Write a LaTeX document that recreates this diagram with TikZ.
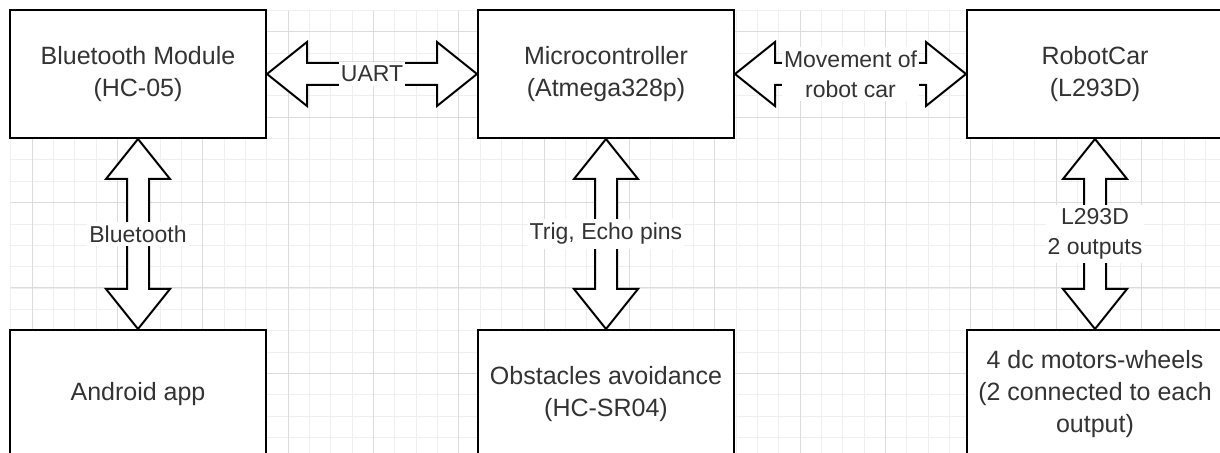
\documentclass[tikz,border=0pt]{standalone}
\usepackage{fontspec}
\setmainfont{Liberation Sans}
\usetikzlibrary{calc}
\definecolor{gridminor}{HTML}{EFEFEF}
\definecolor{gridmajor}{HTML}{DCDCDC}
\definecolor{txtgray}{HTML}{333333}
% double "flex" arrows between two node anchors
\newcommand{\hflex}[2]{\draw[flex] (#1) -- ++(40,32) -- ++(0,-21) -- ($(#2)+(-40,11)$) -- ++(0,21) -- (#2)
    -- ++(-40,-32) -- ++(0,21) -- ($(#1)+(40,-11)$) -- ++(0,-21) -- cycle;}
\newcommand{\vflex}[2]{\draw[flex] (#1) -- ++(32,-40) -- ++(-21,0) -- ($(#2)+(11,40)$) -- ++(21,0) -- (#2)
    -- ++(-32,40) -- ++(21,0) -- ($(#1)+(-11,-40)$) -- ++(-21,0) -- cycle;}

\begin{document}
\begin{tikzpicture}[x=0.5pt, y=0.5pt,
    block/.style={rectangle, draw=black, line width=1pt, fill=white,
                  minimum width=128pt, minimum height=64pt, align=center,
                  font=\fontsize{12.5}{16}\selectfont, text=txtgray},
    lbl/.style={fill=white, inner xsep=1pt, inner ysep=2pt, align=center,
                font=\fontsize{11.5}{15}\selectfont, text=txtgray},
    flex/.style={draw=black, line width=1pt, fill=white, line join=miter}
]
    \useasboundingbox (0,0) rectangle (1220,-453);
    \clip (0,0) rectangle (1220,-453);

    % background grid
    \begin{scope}[shift={(10.667,-10.667)}]
        \draw[gridminor, line width=0.5pt, step=10.667pt] (0,0) grid (1210,-443);
    \end{scope}
    \begin{scope}[shift={(32,-32)}]
        \draw[gridmajor, line width=0.5pt, step=42.667pt] (-21.333,21.333) grid (1188,-421);
    \end{scope}

    \node[block] (bt) at (138,-74) {Bluetooth Module\\(HC-05)};
    \node[block] (mcu) at (606,-74) {Microcontroller\\(Atmega328p)};
    \node[block] (car) at (1095,-74) {RobotCar\\(L293D)};
    \node[block] (app) at (138,-394) {Android app};
    \node[block] (sonar) at (606,-394) {Obstacles avoidance\\(HC-SR04)};
    \node[block] (motors) at (1095,-394) {4 dc motors-wheels\\(2 connected to each\\output)};

    \hflex{bt.east}{mcu.west}
    \hflex{mcu.east}{car.west}
    \vflex{bt.south}{app.north}
    \vflex{mcu.south}{sonar.north}
    \vflex{car.south}{motors.north}

    \node[lbl] (uart) at ($(bt.east)!0.5!(mcu.west)$) {UART};
    \node[lbl] (move) at ($(mcu.east)!0.5!(car.west)$) {Movement of\\robot car};
    \node[lbl] (btlink) at ($(bt.south)!0.5!(app.north)$) {Bluetooth};
    \node[lbl] (pins) at ($(mcu.south)!0.5!(sonar.north)$) {Trig, Echo pins};
    \node[lbl] (drv) at ($(car.south)!0.5!(motors.north)$) {L293D\\2 outputs};
\end{tikzpicture}
\end{document}
